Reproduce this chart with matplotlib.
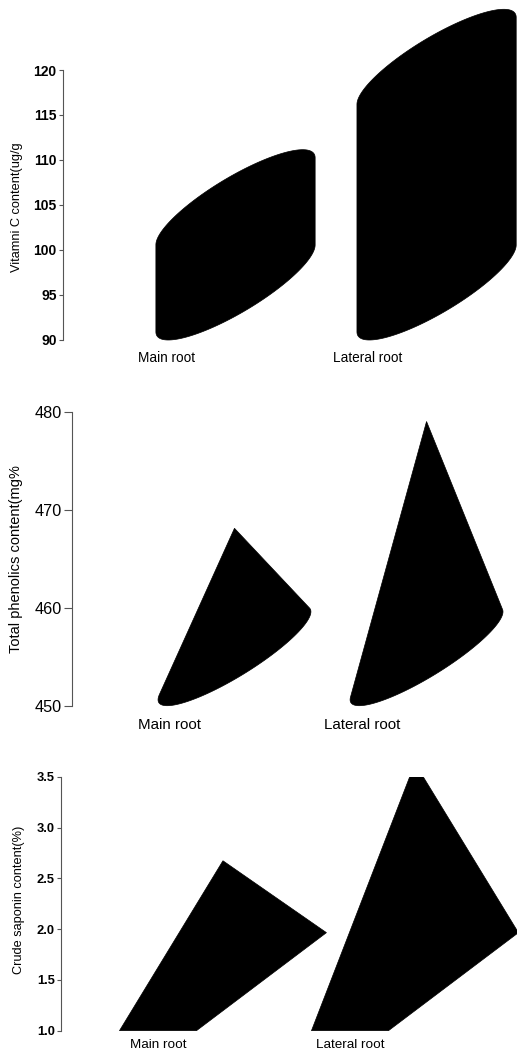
import numpy as np
import matplotlib
matplotlib.use('Agg')
import matplotlib.pyplot as plt
from matplotlib.patches import Polygon

plt.rcParams['font.family'] = ['Liberation Sans', 'DejaVu Sans']

# ---------------- data ----------------
categories = ['Main root', 'Lateral root']
vitamin_c = [99.7, 115.3]        # ug/g
phenolics = [463.0, 473.9]       # mg%
saponin = [2.19, 3.15]           # %

vc_ticks = [90, 95, 100, 105, 110, 115, 120]
ph_ticks = [450, 460, 470, 480]
sp_ticks = [1.0, 1.5, 2.0, 2.5, 3.0, 3.5]

W, H = 517, 1054
fig = plt.figure(figsize=(W / 100, H / 100), dpi=100)
fig.patch.set_facecolor('white')


def add_axes(left_px, top_px, bottom_px):
    return fig.add_axes([left_px / W, 1 - bottom_px / H,
                         (W - left_px) / W, (bottom_px - top_px) / H])


def convex_hull(points):
    pts = sorted(set(map(tuple, np.round(points, 9))))

    def cross(o, a, b):
        return (a[0] - o[0]) * (b[1] - o[1]) - (a[1] - o[1]) * (b[0] - o[0])
    lower = []
    for p in pts:
        while len(lower) >= 2 and cross(lower[-2], lower[-1], p) <= 0:
            lower.pop()
        lower.append(p)
    upper = []
    for p in reversed(pts):
        while len(upper) >= 2 and cross(upper[-2], upper[-1], p) <= 0:
            upper.pop()
        upper.append(p)
    return np.array(lower[:-1] + upper[:-1])


def ellipse(cx, cy, ax_, ay_, by_, n=160):
    t = np.linspace(0, 2 * np.pi, n, endpoint=False)
    return np.column_stack([cx + ax_ * np.cos(t),
                            cy + ay_ * np.cos(t) + by_ * np.sin(t)])


def style(ax, ylim, xlim, ticks, fmt, ylabel, fs_tick, fs_lab, fs_x,
          ylab_pos, xpad, tlen, tick_weight):
    ax.set_xlim(*xlim)
    ax.set_ylim(*ylim)
    for s in ['top', 'right', 'bottom']:
        ax.spines[s].set_visible(False)
    ax.spines['left'].set_color('#555555')
    ax.spines['left'].set_linewidth(0.8)
    ax.set_yticks(ticks)
    ax.set_yticklabels([fmt.format(t) for t in ticks], fontsize=fs_tick,
                       fontweight=tick_weight)
    ax.tick_params(axis='y', length=tlen, width=0.8, color='#555555', pad=1.5)
    ax.set_xticks(range(len(categories)))
    ax.set_xticklabels(categories, fontsize=fs_x)
    ax.tick_params(axis='x', length=0, pad=xpad)
    ax.set_ylabel(ylabel, fontsize=fs_lab)
    ax.yaxis.set_label_coords(*ylab_pos)
    ax.patch.set_alpha(0)


# ---------------- panel 1 : cylinders ----------------
ax1 = add_axes(63, 70, 340)
base1 = 90
for i, v in enumerate(vitamin_c):
    ax_, ay_, by_ = 0.396, 4.83, 3.07
    cx = i + 0.341
    cy = base1 + np.hypot(ay_, by_)
    pts = np.vstack([ellipse(cx, cy, ax_, ay_, by_),
                     ellipse(cx, cy + (v - base1), ax_, ay_, by_)])
    ax1.add_patch(Polygon(convex_hull(pts), closed=True, facecolor='black',
                          edgecolor='black', lw=0.5, clip_on=False, zorder=3))
style(ax1, (90, 120), (-0.517, 1.741), vc_ticks, '{:d}',
      'Vitamni C content(ug/g', 10.0, 9.2, 9.8, (-0.088, 0.493), 8, 3, 'bold')

# ---------------- panel 2 : cones ----------------
ax2 = add_axes(72, 411.7, 705.7)
base2 = 450
for i, v in enumerate(phenolics):
    ax_, ay_, by_ = 0.398, 4.49, 2.42
    cx = i + 0.336
    cy = base2 + np.hypot(ay_, by_)
    apex = np.array([[cx, cy + (v - base2)]])
    pts = np.vstack([ellipse(cx, cy, ax_, ay_, by_), apex])
    ax2.add_patch(Polygon(convex_hull(pts), closed=True, facecolor='black',
                          edgecolor='black', lw=0.5, clip_on=False, zorder=3))
style(ax2, (450, 480), (-0.510, 1.807), ph_ticks, '{:d}',
      'Total phenolics content(mg%', 11.7, 10.5, 10.9, (-0.110, 0.50), 9, 6,
      'normal')

# ---------------- panel 3 : pyramids ----------------
ax3 = add_axes(61, 776.7, 1030.7)
base3 = 1.0
for i, v in enumerate(saponin):
    hw, dx, dy = 0.2005, 0.677, 0.965
    corners = np.array([[i - hw, base3], [i + hw, base3],
                        [i + hw + dx, base3 + dy], [i - hw + dx, base3 + dy]])
    c = corners.mean(axis=0)
    apex = np.array([[c[0], c[1] + (v - base3)]])
    pts = np.vstack([corners, apex])
    ax3.add_patch(Polygon(convex_hull(pts), closed=True, facecolor='black',
                          edgecolor='black', lw=0.5, clip_on=True, zorder=3))
style(ax3, (1.0, 3.5), (-0.505, 1.870), sp_ticks, '{:.1f}',
      'Crude saponin content(%)', 9.3, 9.2, 9.7, (-0.079, 0.515), 6, 3, 'bold')

fig.savefig('out.png', dpi=100, facecolor='white')
